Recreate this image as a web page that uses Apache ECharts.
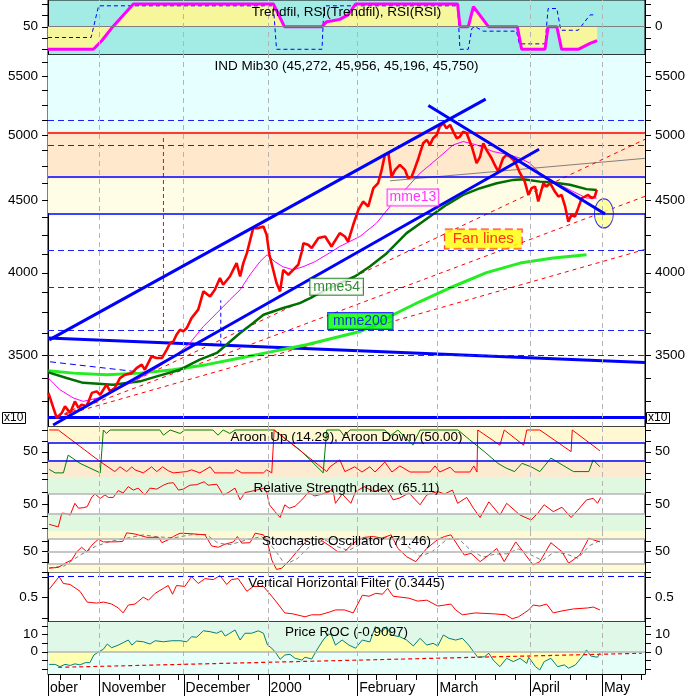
<!DOCTYPE html>
<html><head><meta charset="utf-8">
<script src="https://cdn.jsdelivr.net/npm/echarts@6/dist/echarts.min.js"></script>
<style>html,body{margin:0;padding:0;background:#fff}#c{width:693px;height:696px}</style>
</head><body><div id="c"></div>
<script>
// ---------------- DATA (x = trading-day index from the left edge) ----------------
const monthNames = ['ober','November','December','2000','February','March','April','May'];
const monthDays  = [0, 13.0, 34.3, 55.8, 78.2, 98.5, 121.9, 140.1];
const weekDays   = [3,8,18,23,28,33,38,43,48,53,61,66,71,76,83,88,93,103,108,113,118,127,132,136,145,150];

// IND Mib30 (values /10)
const priceDays = [0.1,2.2,3.5,4.3,5.6,6.8,7.7,8.5,9.8,11.1,12.3,13.2,14.8,15.7,16.9,18.2,19.5,21.2,22.4,23.7,
  24.5,26.2,27.5,28.8,30.0,30.9,31.7,32.5,33.4,34.2,35.1,36.3,38.0,39.3,41.0,42.2,43.5,44.3,46.0,47.7,
  48.6,49.4,50.3,51.9,53.2,54.5,55.3,56.0,57.8,58.7,59.5,60.8,62.0,63.3,64.2,64.6,65.8,66.7,68.4,70.1,
  71.7,73.8,75.1,75.9,77.2,78.5,79.7,81.0,82.3,83.5,84.4,85.2,86.1,86.9,87.8,89.0,90.3,91.1,92.0,92.8,
  93.7,94.5,94.9,95.8,96.6,97.4,98.3,99.1,100.0,100.8,101.7,102.5,103.4,104.2,105.0,105.9,107.2,108.4,109.3,110.1,
  110.9,112.2,113.0,113.9,115.1,116.0,116.8,117.7,118.5,119.4,120.6,121.5,122.3,123.2,124.0,125.3,126.1,127.0,128.2,129.1,
  129.9,130.8,131.6,132.4,133.3,134.1,135.0,135.8,136.6,137.5,138.3,138.8];
const priceClose = [3292,3161,3187,3221,3187,3247,3213,3230,3221,3292,3300,3282,3336,3300,3318,3372,3390,3399,3427,3446,
  3418,3492,3483,3483,3530,3569,3578,3617,3647,3637,3657,3716,3767,3880,3848,3890,3965,3922,3975,4062,
  3975,4062,4128,4299,4299,4310,4252,4117,3933,3880,4018,3986,4018,4051,4139,4195,4184,4162,4230,4241,
  4173,4264,4241,4206,4322,4428,4488,4452,4586,4623,4724,4840,4853,4673,4724,4762,4724,4661,4673,4737,
  4814,4893,4932,4959,4919,4972,4999,5067,5094,5054,5081,5026,4972,4986,5026,5013,4905,4775,4827,4932,
  4880,4814,4762,4711,4814,4840,4827,4801,4762,4699,4635,4536,4586,4598,4488,4623,4598,4623,4561,4524,
  4536,4452,4344,4392,4380,4440,4513,4524,4536,4513,4524,4573];

const mme13 = [[0.1,3372],[3.0,3309],[6.4,3265],[8.9,3247],[12.7,3265],[17.4,3309],[22.4,3363],[27.5,3427],[32.5,3502],[35.9,3569],
  [39.3,3666],[42.7,3746],[46.0,3828],[48.6,3890],[51.1,3986],[53.6,4071],[55.4,4117],[57.4,4071],[59.4,4038],[62.0,4018],
  [64.5,4038],[67.5,4071],[71.3,4131],[73.8,4173],[78.9,4241],[83.1,4334],[86.5,4452],[89.9,4561],[94.1,4699],[96.6,4762],
  [99.1,4827],[102.5,4919],[105.0,4946],[108.4,4919],[112.6,4866],[116.8,4840],[119.4,4814],[121.9,4775],[125.3,4673],
  [128.7,4623],[132.0,4573],[134.6,4536],[136.2,4513],[138.8,4513]];
const mme54 = [[0.1,3403],[4.7,3372],[8.9,3346],[16.5,3336],[23.3,3354],[27.5,3381],[33.4,3418],[38.4,3474],[42.7,3512],[48.6,3627],
  [51.9,3686],[54.5,3736],[59.5,3777],[63.7,3807],[67.1,3848],[71.3,3903],[77.6,3975],[81.4,4040],[85.7,4128],[90.7,4264],
  [96.6,4380],[100.8,4464],[105.0,4536],[109.3,4586],[113.5,4623],[117.7,4648],[120.2,4653],[124.4,4635],[127.8,4628],
  [132.0,4611],[136.2,4579],[138.8,4573]];
const mme200 = [[0.1,3412],[6.4,3399],[14.8,3390],[23.3,3399],[31.7,3418],[40.1,3446],[48.6,3483],[57.0,3521],[65.4,3559],
  [73.8,3607],[78.9,3636],[82.7,3676],[87.3,3736],[94.1,3817],[102.5,3911],[110.9,4000],[119.4,4062],[127.8,4095],[136.2,4117]];

// drawn studies on the price panel: [day, value] end points
const channelUpper = [[0.3,3587],[110.7,5298]];
const channelLower = [[1.3,3125],[124.2,4884]];
const downTrend    = [[96.2,5243],[140.9,4398]];
const flatLine     = [[0,3598],[151,3458]];
const grayLine     = [[86.5,4641],[151,4813]];
const shortDash    = [[0.5,3462],[22.4,3407]];
const redVert      = [[29.2,3598],[29.2,5000]];
const blueVert     = [[43.7,3559],[43.7,3825]];
const fanOrigin    = [2.3,3165];
const fanEnds      = [[151,4964],[151,4526],[151,4153]];
const ellipseAt    = [[140.6,4402]];
const levelsDashed = [5111,4893,4162,3901,3645,3500];
const levelRed     = 5031;
const levelsBlue   = [4656,4405];
const levelBottom  = 3164;
const bandCyan     = [5031,5690];
const bandPeach    = [4656,5031];
const bandYellow   = [4405,4656];
const annotations  = [
  {name:'mme13', at:[92.3,4518]}, {name:'mme54', at:[73.0,3909]},
  {name:'mme200', at:[79.0,3698]}, {name:'Fan lines', at:[110.1,4223]}];
const mainLabels = [3500,4000,4500,5000,5500];
const mainTicks  = [3250,3375,3500,3625,3750,3875,4000,4125,4250,4375,4500,4625,4750,4875,5000,5125,5250,5375,5500,5625];

// Trendfil panel
const trendfil = [[0,0],[11.5,0],[13.7,20],[16.4,50],[21.6,100],[57.0,100],[59.8,50],[69.3,50],[70.5,61],[72,63],[73.8,66],
  [75.9,76],[77.8,100],[103.6,100],[104.2,50],[106.3,50],[107.6,94],[111.4,50],[118.7,50],[119.8,0],[125.7,0],[126.5,50],
  [128.7,50],[129.9,0],[134.1,0],[137.1,13],[138.9,19]];
const rsiRsi = [[0,26],[10.9,26],[12.8,96],[57.0,96],[57.8,0],[69.3,0],[69.8,96],[103.6,96],[104.2,0],[106.3,0],[107.2,46],
  [108.0,50],[110.1,40],[118.5,40],[119.2,12],[125.7,12],[126.5,90],[128.7,90],[129.7,42],[134.1,42],[137.1,76],[138.3,76]];

// Aroon
const aroonUp = [[0.3,9],[1.8,1],[3.9,1],[5.1,42],[8.1,23],[13.2,1],[14.0,100],[14.8,92],[15.7,100],[28.3,100],[29.2,88],
  [30.9,100],[33.4,92],[34.6,100],[41.7,100],[43.0,88],[44.3,100],[46.0,92],[47.3,100],[57.2,100],[60.4,77],[63.7,54],
  [66.3,31],[69.6,1],[70.5,100],[73.8,100],[74.9,86],[76.4,100],[85.2,100],[86.5,86],[88.5,100],[92.3,65],[94.1,100],
  [103.7,100],[106.7,77],[110.5,49],[113.8,23],[115.9,12],[118.0,4],[119.9,23],[122.2,15],[124.4,4],[127.2,35],[132.9,4],
  [136.8,4],[137.9,31],[139.6,15]];
const aroonDown = [[0.3,100],[2.6,100],[13.2,27],[16.9,4],[18.2,15],[19.9,4],[21.2,15],[22.0,8],[24.1,1],[26.2,15],[27.5,4],
  [29.0,15],[30.4,6],[31.7,1],[35.1,4],[36.3,8],[38.4,1],[41.0,15],[42.2,1],[46.9,1],[47.7,8],[49.0,1],[54.5,1],[55.3,8],
  [56.6,1],[57.2,100],[70.5,4],[71.3,15],[73.8,31],[75.1,4],[77.6,15],[79.4,3],[81.4,15],[82.7,3],[85.2,26],[87.0,3],
  [89.0,17],[91.6,3],[96.6,3],[97.9,17],[99.1,3],[101.7,14],[102.9,3],[106.7,3],[107.7,17],[108.5,3],[108.7,100],
  [114.3,65],[115.4,100],[120.3,65],[121.1,100],[124.4,100],[132.3,50],[132.6,100],[139.6,52]];

// RSI
const rsi = [[0.3,8],[2.6,3],[3.5,31],[4.7,30],[5.6,27],[6.8,51],[7.7,41],[8.9,42],[9.9,44],[11.1,64],[11.9,70],[13.2,61],
  [14.4,68],[15.3,63],[16.5,63],[17.8,77],[19.0,72],[20.3,85],[21.6,78],[22.8,82],[24.5,68],[25.8,82],[27.5,80],[29.2,88],
  [30.4,92],[31.7,93],[33.0,78],[34.2,80],[35.9,88],[37.6,89],[39.5,95],[40.5,88],[42.7,90],[44.3,68],[45.6,73],[47.3,82],
  [48.6,58],[49.8,73],[51.1,75],[52.8,78],[54.5,82],[55.3,75],[56.0,48],[57.4,34],[58.7,22],[59.9,48],[61.0,41],[62.5,45],
  [64.2,58],[65.8,73],[67.5,66],[69.3,70],[71.3,75],[72.0,82],[72.7,51],[74.4,70],[76.6,51],[77.8,75],[80.0,85],[82.3,75],
  [85.6,82],[87.3,58],[89.0,62],[91.3,72],[94.1,48],[95.8,68],[98.6,75],[100.3,70],[102.3,78],[103.6,51],[105.9,63],
  [107.6,41],[109.3,22],[111.5,54],[114.3,27],[116.0,51],[119.4,27],[122.2,17],[123.9,31],[125.5,48],[127.8,34],[130.0,43],
  [132.3,22],[134.0,37],[136.2,58],[137.9,61],[139.0,51],[139.8,63]];

// Stochastic %K and its signal
const stochK = [[0.3,9],[2.6,11],[4.3,21],[6.0,29],[7.3,49],[8.5,60],[9.8,49],[11.1,65],[12.7,79],[14.0,73],[16.9,73],[18.9,74],
  [19.9,95],[22.0,92],[22.8,90],[25.0,84],[28.0,84],[28.8,71],[30.4,78],[31.7,86],[33.4,94],[36.0,93],[38.4,91],[39.7,90],
  [41.4,63],[43.1,60],[44.7,67],[46.9,73],[47.9,86],[49.0,70],[51.1,71],[52.4,94],[54.5,90],[55.5,73],[56.6,29],[57.8,6],
  [59.1,9],[61.2,29],[62.9,49],[64.2,63],[65.8,79],[68.8,79],[71.6,61],[73.3,49],[75.0,49],[76.7,65],[78.4,78],[80.0,84],
  [82.3,86],[84.5,82],[86.8,90],[88.5,57],[90.7,37],[93.0,25],[95.8,57],[98.6,79],[100.3,86],[101.9,90],[103.6,65],
  [105.3,41],[107.0,45],[109.3,25],[111.5,41],[113.5,57],[115.4,25],[118.3,73],[120.5,45],[122.7,17],[124.4,25],[127.2,71],
  [130.0,49],[131.7,21],[134.5,41],[136.8,82],[137.9,78],[139.6,73]];
const stochD = [[0.3,10],[4,14],[8,40],[12,62],[16,75],[20,82],[24,90],[28,85],[32,83],[36,90],[40,91],[43,70],[46,66],[50,77],
  [54,86],[57,58],[60,18],[63,32],[66,60],[70,78],[73,62],[76,52],[80,72],[84,84],[88,83],[91,62],[94,38],[97,48],[101,80],
  [104,79],[107,52],[110,36],[113,43],[116,44],[119,56],[122,42],[125,28],[128,48],[131,44],[134,33],[137,64],[139.6,76]];

// Vertical Horizontal Filter
const vhf = [[0.3,0.595],[2.8,0.749],[3.9,0.666],[5.6,0.654],[8.1,0.571],[9.9,0.441],[12.3,0.429],[14.1,0.441],[16.1,0.417],
  [17.8,0.370],[19.0,0.310],[20.3,0.405],[22.0,0.417],[24.1,0.50],[25.4,0.464],[27.1,0.547],[29.2,0.607],[30.4,0.642],
  [31.5,0.536],[32.5,0.642],[34.6,0.630],[36.3,0.749],[38.0,0.666],[39.7,0.725],[41.8,0.713],[43.5,0.761],[45.2,0.654],
  [46.4,0.713],[48.1,0.725],[50.3,0.571],[51.9,0.630],[54.5,0.630],[56.0,0.547],[57.8,0.441],[59.9,0.310],[62.0,0.298],
  [65.0,0.263],[66.7,0.287],[68.8,0.287],[71.3,0.322],[72.7,0.346],[75.0,0.346],[77.2,0.310],[79.5,0.524],[81.2,0.512],
  [82.9,0.547],[84.6,0.536],[85.9,0.607],[87.3,0.512],[91.3,0.488],[93.5,0.453],[95.8,0.464],[98.6,0.393],[100.3,0.405],
  [101.9,0.417],[103.1,0.346],[104.8,0.287],[108.1,0.310],[113.0,0.298],[115.8,0.287],[117.4,0.239],[119.0,0.263],
  [120.5,0.310],[121.6,0.346],[122.7,0.405],[124.4,0.393],[126.1,0.417],[127.8,0.310],[130.0,0.334],[132.9,0.358],
  [136.5,0.370],[137.9,0.381],[139.6,0.346]];

// Price ROC and its dashed average
const roc = [[0.3,-7.3],[1.8,-7.3],[3.0,-8.6],[4.3,-7.3],[5.6,-7.9],[6.8,-7],[8.1,-7.6],[9.4,-6.3],[10.6,-6.3],[11.6,-1.9],
  [12.9,0],[14.0,1.4],[15.0,4.4],[16.1,2.3],[17.8,3.8],[19.0,5.2],[20.3,6.7],[21.2,3.8],[22.4,6.1],[24.1,5.7],[25.8,4.4],
  [27.1,6.3],[29.2,5.7],[31.3,6.3],[33.4,6.3],[35.1,5.7],[36.3,8.6],[37.6,8.3],[39.3,12],[41.0,11.5],[42.7,10.6],[43.9,12],
  [44.8,9],[46.0,10.6],[47.3,12.5],[48.6,6.7],[49.8,10.6],[51.5,10.6],[53.2,12],[54.5,10.6],[55.5,3.9],[56.6,2],[57.7,-0.9],
  [58.7,-4.4],[59.9,-1.9],[61.2,-1.5],[62.5,-3.8],[64.2,-4.8],[65.0,-3.2],[66.7,-4.2],[68.0,1],[69.6,6.7],[70.9,10.2],
  [71.7,9.6],[72.7,3.8],[74.4,6.7],[76.1,3.8],[77.8,2],[79.5,6.7],[81.4,5.6],[82.8,14.4],[84.5,11.5],[85.6,14.4],[86.8,9.6],
  [89.0,8.6],[90.7,6.7],[92.4,3.3],[94.1,7.7],[95.8,3.8],[97.4,4.8],[98.6,3.3],[100.0,9.6],[101.4,7.7],[103.1,6.7],[104.8,7.7],
  [106.4,3.8],[108.7,-3.2],[110.4,-2.9],[111.5,-0.9],[112.6,-4.8],[114.3,-8.6],[116.0,-3.8],[117.7,-5.7],[119.4,-3.8],
  [121.1,-6.7],[121.6,-3.2],[123.3,-8.6],[124.4,-10.5],[125.5,-5.7],[127.2,-3.8],[128.9,-8.6],[130.6,-7.6],[131.7,-9.5],
  [133.4,-7.6],[135.1,-2.9],[136.2,1],[137.3,-2.5],[139.0,-3.2],[139.6,-0.9]];
const rocAvg = [[2.6,-9.0],[150.2,-0.9]];

// ---------------- CHART ----------------
const FONT = '"Liberation Sans", Arial, sans-serif';
const L = Math.log;
const X_MIN = 0, X_MAX = 151;
const lnPts = a => a.map(p => [p[0], L(p[1])]);
const grids = [
  {top:0,height:55,bg:'#A3ECE6'},{top:55,height:372,bg:'#FFFFFF'},{top:427,height:50,bg:'#FFFFFF'},
  {top:477,height:54,bg:'#FFFFFF'},{top:531,height:41,bg:'#FFFFFF'},{top:572,height:50,bg:'#FFFFFF'},{top:622,height:52,bg:'#FFFFFF'}];
const yr = [[-12.6,108.8],[L(3115),L(5690)],[-8.5,106.9],[-5.5,104.7],[-0.2,99.4],[0.200,0.805],[-12.82,17.07]];

// per axis: [labels, ticks] (left, right)
const axisDefs = [
  [[50],[0,25,50,75,100]], [[0],[-50,-25,0,25,50]],
  [mainLabels.map(L), mainTicks.map(L)], [mainLabels.map(L), mainTicks.map(L)],
  [[50],[0,25,50,75,100]], [[50],[0,25,50,75,100]],
  [[50],[0,25,50,75,100]], [[50],[0,25,50,75,100]],
  [[50],[0,25,50,75]], [[50],[0,25,50,75]],
  [[0.5],[0.25,0.5,0.75]], [[0.5],[0.25,0.5,0.75]],
  [[0,10],[-10,-5,0,5,10,15]], [[0,10],[-10,-5,0,5,10,15]]
];
const yAxes = axisDefs.map((d, k) => {
  const g = Math.floor(k/2), right = k % 2 === 1;
  const off = (g === 0 && right) ? -50 : 0;
  return {type:'value', gridIndex:g, position:right ? 'right' : 'left', min:yr[g][0]+off, max:yr[g][1]+off,
    axisLine:{show:true, lineStyle:{color:'#000', width:1}},
    axisTick:{show:false},
    axisLabel:{show:true, customValues:d[0], color:'#000', fontSize:13.5, fontFamily:FONT, margin:10,
      formatter: g === 1 ? (v => String(Math.round(Math.exp(v)))) : (v => String(v))},
    splitLine:{show:false}};
});
const xAxes = grids.map((g,i) => ({type:'value', gridIndex:i, min:X_MIN, max:X_MAX, show:i===6, position:'bottom',
  axisLine:{show:true, onZero:false, lineStyle:{color:'#000', width:1}}, splitLine:{show:false}, axisTick:{show:false},
  axisLabel:{show:true, customValues:monthDays, align:'left', margin:7, padding:[0,0,0,2], color:'#000', fontSize:14, fontFamily:FONT,
    formatter:v => monthNames[monthDays.indexOf(v)] || ''}}));

const GRIDV = {color:'#B4B4B4', width:1, type:[5,4]};
const monthLines = monthDays.slice(1).map(d => ({xAxis:d, lineStyle:GRIDV}));
const S = [];
function add(g, o, yk){ S.push(Object.assign({type:'line', xAxisIndex:g, yAxisIndex:(yk===undefined?2*g:yk), symbol:'none', silent:true, animation:false}, o)); }
function marks(g, z, areas, lines){
  add(g, {data:[], z,
    markArea: areas.length ? {silent:true, data:areas.map(a => [{yAxis:a[0], itemStyle:{color:a[2]}},{yAxis:a[1]}])} : undefined,
    markLine: {silent:true, symbol:'none', label:{show:false}, animation:false, data:lines.concat(monthLines)}});
}
const hl = (v, color, width, type) => ({yAxis:v, lineStyle:{color, width, type:type||'solid', opacity:1}});

// axis ticks drawn through the axes' own scales
axisDefs.forEach((d, k) => {
  const g = Math.floor(k/2), right = k % 2 === 1;
  const xv = right ? X_MAX : X_MIN, dir = right ? 1 : -1;
  add(g, {type:'custom', clip:false, z:10, data:d[1].map(v => [xv, v]),
    renderItem:(params, api) => {
      const p = api.coord([api.value(0), api.value(1)]);
      const y = Math.round(p[1]) + 0.5;
      return {type:'line', shape:{x1:p[0], y1:y, x2:p[0] + dir*6, y2:y}, style:{stroke:'#000', lineWidth:1}};
    }}, k);
});
[[monthDays, 22], [weekDays, 6]].forEach(([days, len]) => {
  add(6, {type:'custom', clip:false, z:10, data:days.map(d => [d, yr[6][0]]),
    renderItem:(params, api) => {
      const p = api.coord([api.value(0), api.value(1)]);
      const x = Math.round(p[0]) + 0.5;
      return {type:'line', shape:{x1:x, y1:p[1], x2:x, y2:p[1] + len}, style:{stroke:'#000', lineWidth:1}};
    }});
});

// Panel 0: Trendfil
add(0, {data:trendfil, z:1, lineStyle:{width:0}, areaStyle:{color:'#F6F69C', origin:50, opacity:1}});
marks(0, 2, [], [hl(50,'#7F7F7F',1)]);
add(0, {data:rsiRsi, z:3, lineStyle:{color:'#0000FF', width:1, type:[4,3]}});
add(0, {data:trendfil, z:4, lineStyle:{color:'#FF00FF', width:3}});

// Panel 1: price
const y1top = yr[1][1];
marks(1, 1,
  [[L(bandCyan[0]),y1top,'#E6FFFF'],[L(bandPeach[0]),L(bandPeach[1]),'#FFE8CC'],[L(bandYellow[0]),L(bandYellow[1]),'#FFFDE6']],
  [hl(L(levelRed),'#FF0000',1.5)].concat(levelsBlue.map(v=>hl(L(v),'#0000FF',1.5)))
   .concat(levelsDashed.map(v=>hl(L(v),'#1E1EFF',1,[6,4]))).concat([hl(L(levelBottom),'#0000FF',3)]));
add(1, {data:lnPts(redVert), z:2, lineStyle:{color:'#FF0000', width:1, type:[4,3]}});
add(1, {data:lnPts(blueVert), z:2, lineStyle:{color:'#0000FF', width:1, type:[4,3]}});
add(1, {data:lnPts(shortDash), z:2, lineStyle:{color:'#0000FF', width:1, type:[6,4]}});
add(1, {data:lnPts(grayLine), z:2, lineStyle:{color:'#808080', width:1}});
fanEnds.forEach(e => add(1, {data:lnPts([fanOrigin, e]), z:2, lineStyle:{color:'#FF0000', width:1, type:[4,4]}}));
add(1, {type:'scatter', data:lnPts(ellipseAt), z:3, symbol:'circle', symbolSize:[19,29],
  itemStyle:{color:'#FFFF8C', borderColor:'#0000FF', borderWidth:1}});
add(1, {data:lnPts(flatLine), z:4, lineStyle:{color:'#0000FF', width:3}});
add(1, {data:lnPts(mme200), z:4, lineStyle:{color:'#22EE22', width:3}});
add(1, {data:lnPts(mme54), z:4, lineStyle:{color:'#006E00', width:2.5}});
add(1, {data:lnPts(mme13), z:4, lineStyle:{color:'#FF00FF', width:1}});
add(1, {data:priceDays.map((d,i)=>[d, L(priceClose[i])]), z:5, lineStyle:{color:'#FF0000', width:2.6}});
[channelUpper, channelLower, downTrend].forEach(t => add(1, {data:lnPts(t), z:6, lineStyle:{color:'#0000FF', width:3}}));
const annStyle = {
  'mme13':{color:'#FF00FF', backgroundColor:'#FFFFFF', borderColor:'#FF00FF', borderType:'solid', fontSize:14, padding:[1,2]},
  'mme54':{color:'#006E00', backgroundColor:'#FFFFFF', borderColor:'#006E00', borderType:'solid', fontSize:14, padding:[1,3]},
  'mme200':{color:'#0000FF', backgroundColor:'#00FF00', borderColor:'#0000FF', borderType:'solid', fontSize:14, padding:[1,5]},
  'Fan lines':{color:'#FF0000', backgroundColor:'#FFFF00', borderColor:'#FF0000', borderType:'dashed', fontSize:15, padding:[2,8]}};
add(1, {type:'scatter', z:7, symbol:'rect', symbolSize:2, itemStyle:{color:'rgba(0,0,0,0)'},
  data:annotations.map(a => ({value:[a.at[0], L(a.at[1])],
    label:Object.assign({show:true, position:'inside', formatter:a.name, borderWidth:1, fontFamily:FONT}, annStyle[a.name])}))});

// Panel 2: Aroon
marks(2, 1, [[70,yr[2][1],'#FFF8D2'],[yr[2][0],30,'#FCEBD0']], [hl(70,'#0000FF',1.5), hl(30,'#0000FF',1.5)]);
add(2, {data:aroonUp, z:3, lineStyle:{color:'#008000', width:1}});
add(2, {data:aroonDown, z:4, lineStyle:{color:'#FF0000', width:1}});

// Panel 3: RSI
marks(3, 1, [[70,yr[3][1],'#E0F8E0'],[yr[3][0],30,'#E0F8E0']], [hl(70,'#B4B4B4',1.5), hl(30,'#B4B4B4',1.5)]);
add(3, {data:rsi, z:3, lineStyle:{color:'#FF0000', width:1}});

// Panel 4: Stochastic
marks(4, 1, [[80,yr[4][1],'#FFFAD6'],[yr[4][0],20,'#FFFAD6']], [hl(80,'#B4B4B4',1.5), hl(50,'#B4B4B4',1.5), hl(20,'#B4B4B4',1.5)]);
add(4, {data:stochD, z:3, lineStyle:{color:'#808080', width:1, type:[4,3]}});
add(4, {data:stochK, z:4, lineStyle:{color:'#FF0000', width:1}});

// Panel 5: VHF
marks(5, 1, [], [hl(0.75,'#0000FF',1.2,[6,4])]);
add(5, {data:vhf, z:3, lineStyle:{color:'#FF0000', width:1}});

// Panel 6: Price ROC
marks(6, 1, [[0,yr[6][1],'#E0F8E8'],[yr[6][0],0,'#E6FFF8']], [hl(0,'#B4B4B4',1.5)]);
add(6, {data:roc, z:2, lineStyle:{width:0}, areaStyle:{color:'#FFFFB0', origin:0, opacity:1}});
add(6, {data:rocAvg, z:3, lineStyle:{color:'#FF0000', width:1.2, type:[4,3]}});
add(6, {data:roc, z:4, lineStyle:{color:'#008080', width:1}});

const TS = {fontSize:13.5, fontWeight:'normal', color:'#000', fontFamily:FONT};
const titles = [
  ['Trendfil, RSI(Trendfil), RSI(RSI)',5],['IND Mib30 (45,272, 45,956, 45,196, 45,750)',59],
  ['Aroon Up (14.29), Aroon Down (50.00)',430],['Relative Strength Index (65.11)',481],
  ['Stochastic Oscillator (71.46)',534],['Vertical Horizontal Filter (0.3445)',576],['Price ROC (-0.9097)',625]
].map(t => ({text:t[0], left:'center', top:t[1], padding:0, textStyle:TS}));
const boxT = {fontSize:12, fontWeight:'normal', color:'#000', fontFamily:FONT};
titles.push({text:'x10', left:2, top:412, padding:[0,2], borderColor:'#000', borderWidth:1, backgroundColor:'#fff', textStyle:boxT});
titles.push({text:'x10', left:646, top:412, padding:[0,2], borderColor:'#000', borderWidth:1, backgroundColor:'#fff', textStyle:boxT});

const chart = echarts.init(document.getElementById('c'), null, {renderer:'canvas'});
chart.setOption({
  animation:false,
  backgroundColor:'#fff',
  title: titles,
  grid: grids.map(g => ({left:48, right:48, top:g.top, height:g.height, show:true, borderColor:'#000', borderWidth:1, backgroundColor:g.bg})),
  xAxis: xAxes,
  yAxis: yAxes,
  series: S
});
</script></body></html>
